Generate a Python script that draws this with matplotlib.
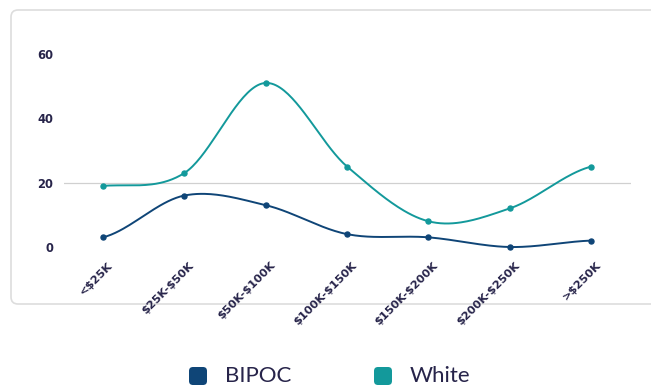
import numpy as np
import matplotlib
matplotlib.use("Agg")
import matplotlib.pyplot as plt
from matplotlib.patches import FancyBboxPatch
import matplotlib.transforms as mtrans

plt.rcParams["text.parse_math"] = False

categories = ["<$25K", "$25K-$50K", "$50K-$100K", "$100K-$150K",
              "$150K-$200K", "$200K-$250K", ">$250K"]
bipoc = [3, 16, 13, 4, 3, 0, 2]
white = [19, 23, 51, 25, 8, 12, 25]
yticks = [0, 20, 40, 60]

C_BIPOC = "#0f4577"
C_WHITE = "#13999b"
TXT = "#27244a"

W, H = 651, 387
fig = plt.figure(figsize=(W / 100, H / 100), dpi=100)


def px(x0, y0, x1, y1):
    return [x0 / W, 1 - y1 / H, (x1 - x0) / W, (y1 - y0) / H]


# background axes holding the card and legend
bg = fig.add_axes([0, 0, 1, 1], zorder=-1)
bg.set_xlim(0, W)
bg.set_ylim(H, 0)
bg.axis("off")
bg.add_patch(FancyBboxPatch((11, 10), 700, 294,
                            boxstyle="round,pad=0,rounding_size=7",
                            facecolor="white", edgecolor="#dddddd",
                            linewidth=1.2))

ax = fig.add_axes(px(64, 54, 631, 247), zorder=1)
ax.set_facecolor("none")


def spline(y, n=40):
    y = np.asarray(y, float)
    k = len(y)
    m = np.zeros(k)
    for i in range(k):
        if i == 0:
            m[i] = (y[1] - y[0]) * 0.5
        elif i == k - 1:
            m[i] = (y[-1] - y[-2]) * 0.5
        else:
            m[i] = (y[i + 1] - y[i - 1]) * 0.5
    xs, ys = [], []
    for i in range(k - 1):
        t = np.linspace(0, 1, n, endpoint=(i == k - 2))
        h00 = 2 * t**3 - 3 * t**2 + 1
        h10 = t**3 - 2 * t**2 + t
        h01 = -2 * t**3 + 3 * t**2
        h11 = t**3 - t**2
        xs.append(i + t)
        ys.append(h00 * y[i] + h10 * m[i] + h01 * y[i + 1] + h11 * m[i + 1])
    return np.concatenate(xs), np.concatenate(ys)


x = np.arange(len(categories))
for vals, col in ((white, C_WHITE), (bipoc, C_BIPOC)):
    sx, sy = spline(vals)
    ax.plot(sx, sy, color=col, lw=1.4, clip_on=False, zorder=3,
            solid_capstyle="round")
    ax.plot(x, vals, "o", color=col, ms=3.6, clip_on=False, zorder=4)

ax.axhline(20, color="#d0d0d0", lw=0.9, zorder=1)

ax.set_xlim(-0.48, 6.49)
ax.set_ylim(0, 60)
for s in ax.spines.values():
    s.set_visible(False)
ax.set_yticks(yticks)
ax.set_yticklabels([str(v) for v in yticks])
ax.tick_params(axis="y", length=0, pad=8, labelsize=8.3, labelcolor=TXT)
for lab in ax.get_yticklabels():
    lab.set_fontweight("bold")

ax.set_xticks(x)
ax.set_xticklabels(categories, rotation=45, ha="right", va="center",
                   rotation_mode="anchor")
ax.tick_params(axis="x", length=0, pad=12, labelsize=8.2, labelcolor=TXT)
off = mtrans.ScaledTranslation(8 / 100, 0, fig.dpi_scale_trans)
for lab in ax.get_xticklabels():
    lab.set_fontweight("bold")
    lab.set_transform(lab.get_transform() + off)

# legend
for (name, col, mx, tx) in (("BIPOC", C_BIPOC, 198, 225), ("White", C_WHITE, 383, 410)):
    bg.add_patch(FancyBboxPatch((mx - 9, 367), 18, 18,
                                boxstyle="round,pad=0,rounding_size=4",
                                facecolor=col, edgecolor="none"))
    bg.text(tx, 376, name, fontsize=16, color=TXT,
            family="Lato", va="center", ha="left")

fig.savefig("out.png", dpi=100)
